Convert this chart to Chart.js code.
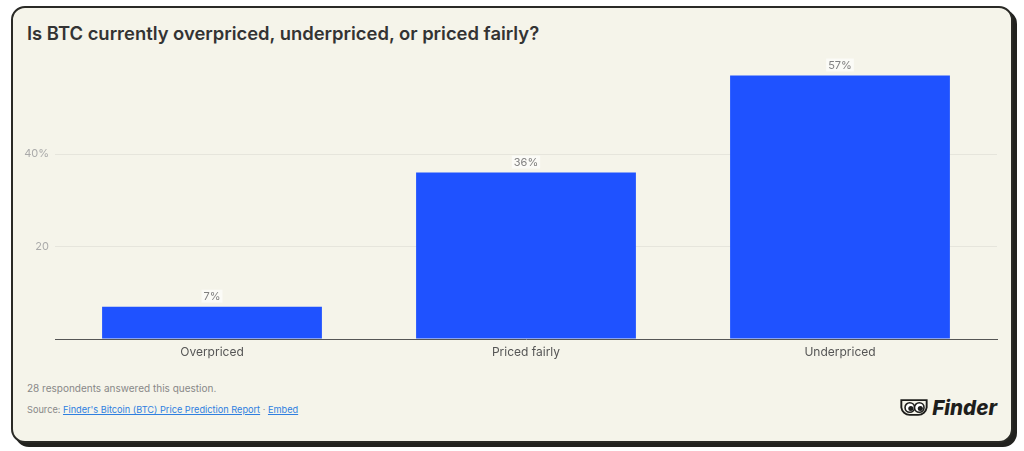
<!DOCTYPE html>
<html>
<head>
<meta charset="utf-8">
<script src="https://cdn.jsdelivr.net/npm/chart.js@4/dist/chart.umd.min.js"></script>
<style>
  body { margin: 0; background: #fff; font-family: Inter, "Noto Sans", sans-serif; }
  .card {
    position: absolute; left: 11px; top: 6px; width: 998px; height: 433px;
    background: #f5f4ea; border: 2px solid #2a2a26; border-radius: 14px;
    box-shadow: 4px 4px 0 #22221f;
  }
  .title { position: absolute; left: 14px; top: 14px; font-size: 18.4px; font-weight: 600; color: #333; }
  .wrap { position: absolute; left: 0; top: 41px; width: 998px; height: 320px; }
  .note { position: absolute; left: 14px; top: 374px; font-size: 10px; color: #888; }
  .src { position: absolute; left: 14px; top: 396px; font-size: 9.2px; color: #888; }
  .src a { color: #2f7fe0; text-decoration: underline; }
  .logo { position: absolute; right: 14px; top: 387px; display: flex; align-items: center; gap: 3px; }
  .logo span { font-size: 20.5px; font-weight: 800; font-style: italic; color: #1e1e1c; }
</style>
</head>
<body>
<div class="card">
  <div class="title">Is BTC currently overpriced, underpriced, or priced fairly?</div>
  <div class="wrap"><canvas id="myChart"></canvas></div>
  <div class="note">28 respondents answered this question.</div>
  <div class="src">Source: <a>Finder's Bitcoin (BTC) Price Prediction Report</a> · <a>Embed</a></div>
  <div class="logo">
    <svg width="30" height="19" viewBox="0 0 28 18">
      <path d="M2 2 H26 V9 A8 8 0 0 1 18 16 H10 A8 8 0 0 1 2 9 Z" fill="none" stroke="#1e1e1c" stroke-width="1.8"/>
      <circle cx="10" cy="9" r="4.5" fill="#fff" stroke="#1e1e1c" stroke-width="1.5"/>
      <circle cx="19" cy="9" r="4.5" fill="#fff" stroke="#1e1e1c" stroke-width="1.5"/>
      <circle cx="11" cy="10" r="2.4" fill="#1e1e1c"/>
      <circle cx="20" cy="10" r="2.4" fill="#1e1e1c"/>
    </svg>
    <span>Finder</span>
  </div>
</div>
<script>
const categories = ["Overpriced", "Priced fairly", "Underpriced"];
const shares = [7, 36, 57];
const yTicks = [0, 20, 40, 60];

const barLabels = {
  id: "barLabels",
  afterDatasetsDraw(chart) {
    const ctx = chart.ctx;
    const meta = chart.getDatasetMeta(0);
    ctx.save();
    ctx.font = "11px Inter, sans-serif";
    ctx.textAlign = "center";
    ctx.textBaseline = "bottom";
    meta.data.forEach((bar, i) => {
      const t = shares[i] + "%";
      const w = ctx.measureText(t).width + 4;
      ctx.fillStyle = "rgba(255,255,255,0.6)";
      ctx.fillRect(bar.x - w / 2, bar.y - 17, w, 13);
      ctx.fillStyle = "#808080";
      ctx.fillText(t, bar.x, bar.y - 4);
    });
    ctx.restore();
  }
};

new Chart(document.getElementById("myChart"), {
  type: "bar",
  data: {
    labels: categories,
    datasets: [{
      data: shares,
      backgroundColor: "#1f52ff",
      barPercentage: 0.7,
      categoryPercentage: 1
    }]
  },
  options: {
    responsive: true,
    maintainAspectRatio: false,
    animation: false,
    layout: { padding: { top: 12, right: 14, left: 0, bottom: 0 } },
    plugins: { legend: { display: false }, tooltip: { enabled: false } },
    scales: {
      x: {
        grid: { display: false },
        border: { color: "#555", width: 1 },
        ticks: { color: "#555", font: { size: 12, family: "Inter" }, padding: -2 },
        afterFit(s) { s.height = 30; }
      },
      y: {
        min: 0,
        max: 60,
        afterBuildTicks(s) { s.ticks = yTicks.map(v => ({ value: v })); },
        border: { display: false },
        grid: {
          drawTicks: false,
          color: c => (c.tick.value === 20 || c.tick.value === 40) ? "#e6e5dc" : "rgba(0,0,0,0)"
        },
        ticks: {
          color: "#aaa",
          font: { size: 11, family: "Inter" },
          padding: 6,
          callback: v => v === 40 ? "40%" : v === 20 ? "20" : ""
        },
        afterFit(s) { s.width = 42; }
      }
    }
  },
  plugins: [barLabels]
});
</script>
</body>
</html>
